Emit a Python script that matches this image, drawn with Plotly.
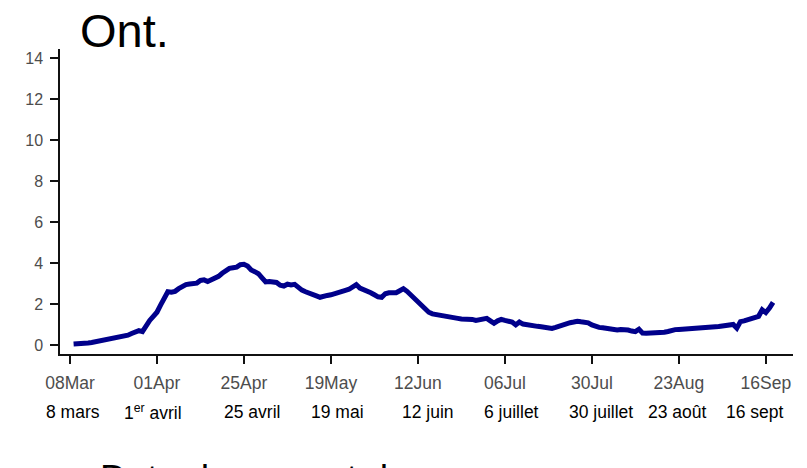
import pandas as pd
import plotly.graph_objects as go

start_date = "2020-03-09"
mar = [0.05, 0.05, 0.06, 0.08, 0.10, 0.12, 0.15, 0.18, 0.21, 0.25, 0.29, 0.33, 0.37, 0.40, 0.44,
       0.48, 0.56, 0.65, 0.70, 0.65, 0.95, 1.20, 1.40]
apr = [1.60, 1.95, 2.30, 2.60, 2.58, 2.62, 2.75, 2.88, 2.95, 2.98, 3.00, 3.02, 3.15, 3.18, 3.10,
       3.18, 3.28, 3.35, 3.50, 3.66, 3.74, 3.77, 3.80, 3.92, 3.94, 3.85, 3.66, 3.58, 3.48, 3.28]
may = [3.08, 3.10, 3.09, 3.05, 2.92, 2.88, 2.97, 2.93, 2.96, 2.80, 2.68, 2.60, 2.55, 2.48, 2.40,
       2.33, 2.40, 2.42, 2.45, 2.52, 2.57, 2.62, 2.67, 2.72, 2.85, 2.95, 2.78, 2.72, 2.64, 2.55, 2.45]
jun = [2.35, 2.33, 2.50, 2.55, 2.53, 2.55, 2.65, 2.75, 2.62, 2.45, 2.30, 2.15, 1.95, 1.78, 1.60,
       1.52, 1.48, 1.44, 1.40, 1.38, 1.35, 1.32, 1.30, 1.27, 1.28, 1.30, 1.25, 1.20, 1.22, 1.28]
jul = [1.30, 1.18, 1.06, 1.18, 1.25, 1.20, 1.14, 1.12, 0.98, 1.12, 1.02, 0.98, 0.95, 0.93, 0.91,
       0.89, 0.87, 0.83, 0.81, 0.86, 0.93, 0.97, 1.04, 1.09, 1.12, 1.16, 1.13, 1.10, 1.08, 0.98, 0.89]
aug = [0.86, 0.84, 0.81, 0.76, 0.70, 0.73, 0.76, 0.77, 0.73, 0.68, 0.65, 0.77, 0.58, 0.57, 0.57,
       0.57, 0.58, 0.60, 0.62, 0.66, 0.73, 0.75, 0.76, 0.77, 0.76, 0.78, 0.80, 0.81, 0.82, 0.83, 0.84]
sep = [0.86, 0.88, 0.90, 0.93, 0.95, 0.97, 1.00, 0.82, 1.14, 1.18, 1.22, 1.28, 1.33, 1.40, 1.72,
       1.58, 1.80, 2.08]

tick_dates = ["2020-03-08", "2020-04-01", "2020-04-25", "2020-05-19", "2020-06-12",
              "2020-07-06", "2020-07-30", "2020-08-23", "2020-09-16"]
tick_en = ["08Mar", "01Apr", "25Apr", "19May", "12Jun", "06Jul", "30Jul", "23Aug", "16Sep"]
tick_fr = ["8 mars", "1<sup>er</sup> avril", "25 avril", "19 mai", "12 juin", "6 juillet",
           "30 juillet", "23 août", "16 sept"]
fr_shift = [3, -4, 8, 7, 10, 7, 9, -1, -11]

title_text = "Ont."
xlabel_text = "Date de rapport des cas"

values = mar + apr + may + jun + jul + aug + sep
dates = pd.date_range(start_date, periods=len(values), freq="D")

FONT = "Arial, Liberation Sans, sans-serif"

fig = go.Figure()
fig.add_trace(go.Scatter(x=dates, y=values, mode="lines",
                         line=dict(color="#00008B", width=5), hoverinfo="skip"))

fig.update_layout(
    width=807, height=468,
    margin=dict(l=60, r=14, t=49, b=114),
    paper_bgcolor="white", plot_bgcolor="white",
    showlegend=False,
    font=dict(family=FONT),
)
fig.update_xaxes(
    range=["2020-03-05 06:00", "2020-09-23 12:00"],
    tickmode="array", tickvals=tick_dates, ticktext=tick_en,
    tickfont=dict(size=17.5, color="#4d4d4d", family=FONT),
    ticks="outside", ticklen=8, tickwidth=1.5, tickcolor="#111111",
    showline=True, linecolor="#111111", linewidth=1.5,
    showgrid=False, zeroline=False, ticklabelstandoff=4,
)
fig.update_yaxes(
    range=[-0.44, 14.45],
    tickmode="array", tickvals=[0, 2, 4, 6, 8, 10, 12, 14],
    tickfont=dict(size=16, color="#4d4d4d", family=FONT),
    ticks="outside", ticklen=8, tickwidth=1.5, tickcolor="#111111",
    showline=True, linecolor="#111111", linewidth=1.5,
    showgrid=False, zeroline=False, ticklabelstandoff=4,
)

annotations = [
    dict(text=title_text, xref="paper", yref="paper", x=18 / 733, y=1,
         xanchor="left", yanchor="bottom", yshift=-10, showarrow=False,
         font=dict(size=47, color="black", family=FONT)),
    dict(text=xlabel_text, xref="paper", yref="paper", x=38 / 733, y=-0.335,
         xanchor="left", yanchor="top", showarrow=False,
         font=dict(size=37, color="black", family=FONT)),
]
for d, t, s in zip(tick_dates, tick_fr, fr_shift):
    annotations.append(dict(text=t, xref="x", yref="paper", x=d, y=-0.19,
                            xanchor="center", yanchor="middle", xshift=s, showarrow=False,
                            font=dict(size=17.5, color="black", family=FONT)))
fig.update_layout(annotations=annotations)

fig.write_html("out.html", config={"displayModeBar": False},
               post_script="document.body.style.margin='0';document.body.style.overflow='hidden';")
